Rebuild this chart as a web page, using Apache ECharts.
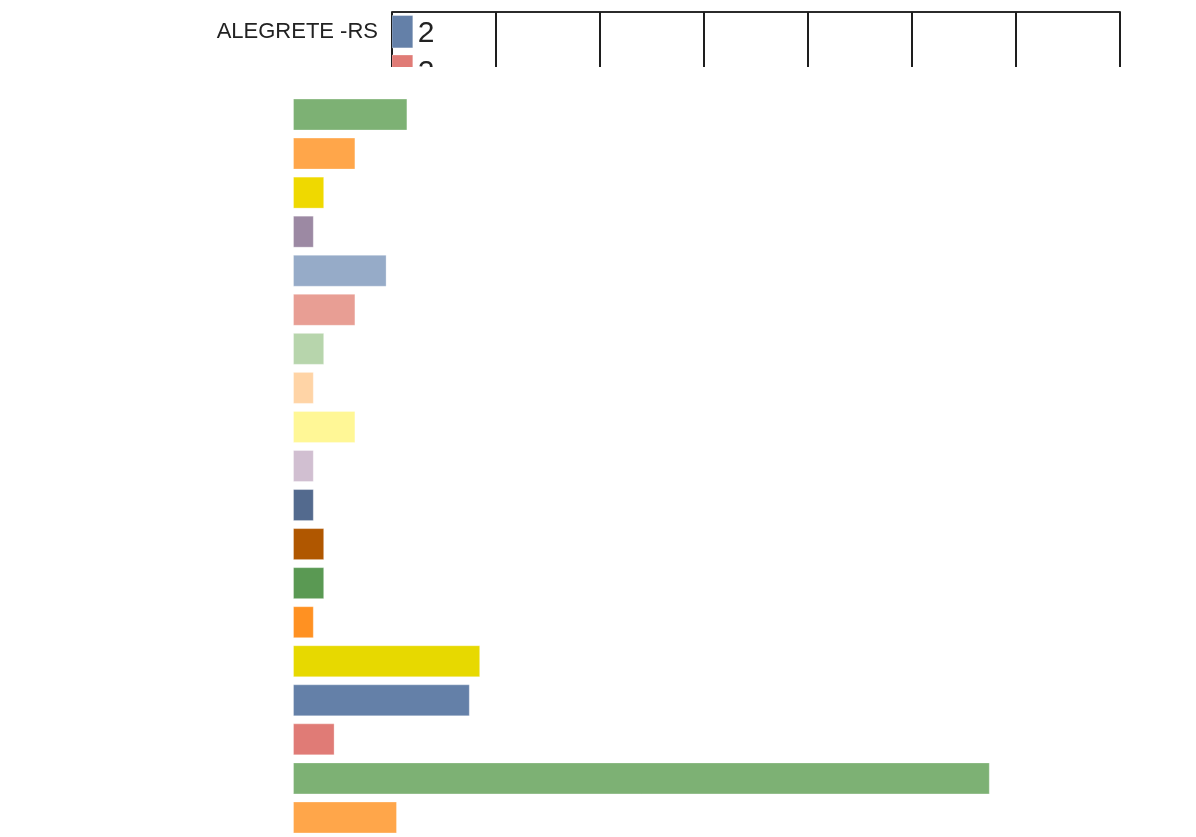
<!DOCTYPE html>
<html>
<head>
<meta charset="utf-8">
<title>chart</title>
<script src="https://cdn.jsdelivr.net/npm/echarts@6/dist/echarts.min.js"></script>
<style>
  html, body { margin: 0; padding: 0; background: #fff; }
  #chart { width: 1196px; height: 837px; }
</style>
</head>
<body>
<div id="chart"></div>
<script>
// top block (only the first row is readable, the second one is cut off)
const topCategories = ["ALEGRETE -RS", ""]
const topValues = [2, 2]

// lower block, labels unreadable in the source
const lowerCategories = [
  "c3", "c4", "c5", "c6", "c7", "c8", "c9", "c10", "c11", "c12",
  "c13", "c14", "c15", "c16", "c17", "c18", "c19", "c20", "c21"
]
const lowerValues = [11, 6, 3, 2, 9, 6, 3, 2, 6, 2, 2, 3, 3, 2, 18, 17, 4, 67, 10]

const xTicks = [0, 10, 20, 30, 40, 50, 60, 70]

const palette = [
  "#6480a8", "#e07b76", "#7db174", "#ffa64a", "#efd900", "#9c89a3",
  "#96abc8", "#e89e94", "#b7d5ac", "#ffd4a6", "#fff796", "#d1bfd1",
  "#536a8e", "#b05700", "#5a9953", "#ff9122", "#e7d900"
]

const FONT = "Liberation Sans, Arial, sans-serif"
const colorAt = i => palette[i % palette.length]

const chart = echarts.init(document.getElementById("chart"))

const hiddenAxis = {
  axisLine: { show: false },
  axisTick: { show: false },
  axisLabel: { show: false },
  splitLine: { show: false }
}

// bars of the top block, clipped by the (short) grid like in the source
const renderTopBar = (params, api) => {
  const value = api.value(0)
  const row = api.value(1)
  const start = api.coord([0, row])
  const end = api.coord([value, row])
  const h = api.size([0, 1])[1] * 0.82
  return {
    type: "group",
    children: [
      {
        type: "rect",
        shape: { x: start[0], y: start[1] - h / 2, width: end[0] - start[0], height: h },
        style: { fill: colorAt(params.dataIndex), stroke: "rgba(255,255,255,0.3)", lineWidth: 1 }
      },
      {
        type: "text",
        x: end[0] + 5,
        y: start[1] + 2,
        style: { text: String(value), fontSize: 30, fontFamily: FONT, fill: "#222", verticalAlign: "middle" }
      }
    ]
  }
}

chart.setOption({
  animation: false,
  grid: [
    { left: 392, top: 12, width: 728, height: 55, containLabel: false },
    { left: 293, top: 95, width: 728, height: 749, containLabel: false }
  ],
  xAxis: [
    {
      gridIndex: 0,
      type: "value",
      position: "top",
      min: xTicks[0],
      max: xTicks[xTicks.length - 1],
      interval: xTicks[1] - xTicks[0],
      axisLine: { show: true, onZero: false, lineStyle: { color: "#2b2b2b", width: 2 } },
      axisTick: { show: true, inside: true, length: 55, lineStyle: { color: "#1e1e1e", width: 2 } },
      axisLabel: { show: false },
      splitLine: { show: false }
    },
    {
      gridIndex: 1,
      type: "value",
      min: xTicks[0],
      max: xTicks[xTicks.length - 1],
      ...hiddenAxis
    }
  ],
  yAxis: [
    {
      gridIndex: 0,
      type: "value",
      inverse: true,
      min: -0.5,
      max: 0.8945,
      axisLine: { show: false },
      axisTick: { show: false },
      splitLine: { show: false },
      axisLabel: {
        customValues: [0],
        formatter: v => topCategories[Math.round(v)] || "",
        margin: 14,
        fontSize: 22,
        color: "#222",
        fontFamily: FONT
      }
    },
    {
      gridIndex: 1,
      type: "category",
      inverse: true,
      data: lowerCategories,
      ...hiddenAxis
    }
  ],
  series: [
    {
      type: "custom",
      xAxisIndex: 0,
      yAxisIndex: 0,
      clip: true,
      encode: { x: 0, y: 1 },
      data: topValues.map((v, i) => [v, i]),
      renderItem: renderTopBar
    },
    {
      type: "bar",
      xAxisIndex: 1,
      yAxisIndex: 1,
      barWidth: 32,
      data: lowerValues.map((v, i) => ({
        value: v,
        itemStyle: { color: colorAt(i + topValues.length) }
      })),
      itemStyle: { borderColor: "rgba(255,255,255,0.3)", borderWidth: 1 }
    }
  ]
})

window.addEventListener("resize", () => {
  chart && chart.resize()
})
</script>
</body>
</html>
